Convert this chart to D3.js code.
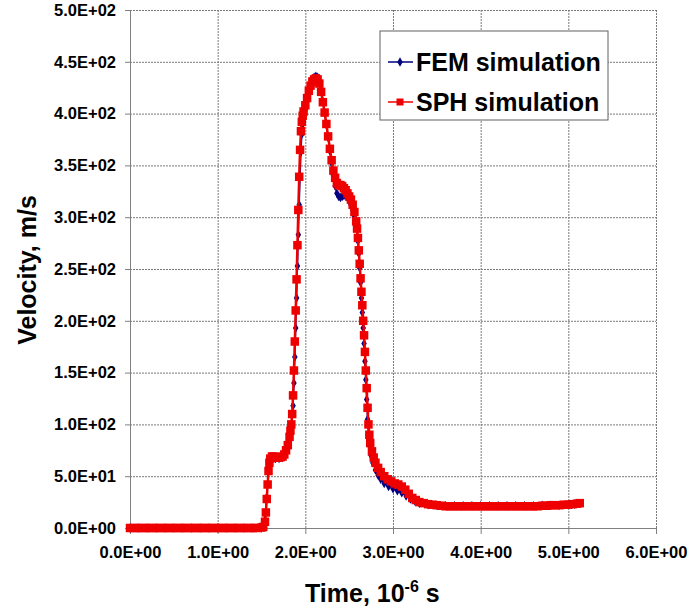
<!DOCTYPE html>
<html>
<head>
<meta charset="utf-8">
<script src="https://cdn.jsdelivr.net/npm/d3@7"></script>
<style>
  body { margin: 0; background: #fff; }
  text { font-family: "Liberation Sans", Arial, sans-serif; font-weight: bold; fill: #000; }
</style>
</head>
<body>
<svg id="chart"></svg>
<script>
// time in 10^-6 s, velocity in m/s
const sphTime = [
  0, 0.05, 0.1, 0.15, 0.2, 0.25, 0.3, 0.35, 0.4, 0.45, 0.5, 0.55, 0.6, 0.65, 0.7, 0.75,
  0.8, 0.85, 0.9, 0.95, 1.0, 1.05, 1.1, 1.15, 1.2, 1.25, 1.3, 1.35, 1.4, 1.45, 1.5,
  1.52, 1.54, 1.55, 1.56, 1.57, 1.58, 1.59, 1.6, 1.62, 1.64, 1.66, 1.68, 1.7, 1.72, 1.74,
  1.76, 1.78, 1.8, 1.82, 1.83, 1.84, 1.85, 1.86, 1.87, 1.88, 1.89, 1.9, 1.91, 1.92, 1.93,
  1.94, 1.95, 1.96, 1.97, 1.98, 2.0, 2.02, 2.04, 2.06, 2.08, 2.1, 2.12, 2.14, 2.16, 2.18,
  2.2, 2.22, 2.24, 2.26, 2.28, 2.3, 2.32, 2.34, 2.36, 2.38, 2.4, 2.42, 2.44, 2.46, 2.48,
  2.5, 2.52, 2.54, 2.56, 2.58, 2.59, 2.6, 2.61, 2.62, 2.63, 2.64, 2.65, 2.66, 2.67, 2.68,
  2.69, 2.7, 2.71, 2.72, 2.73, 2.74, 2.76, 2.78, 2.8, 2.83, 2.86, 2.9, 2.94, 2.98, 3.02,
  3.06, 3.1, 3.14, 3.18, 3.22, 3.26, 3.3, 3.35, 3.4, 3.45, 3.5, 3.55, 3.6, 3.65, 3.7,
  3.75, 3.8, 3.85, 3.9, 3.95, 4.0, 4.05, 4.1, 4.15, 4.2, 4.25, 4.3, 4.35, 4.4, 4.45, 4.5,
  4.55, 4.6, 4.65, 4.7, 4.75, 4.8, 4.85, 4.9, 4.95, 5.0, 5.05, 5.1, 5.13
];
const sphVelocity = [
  0, 0, 0, 0, 0, 0, 0, 0, 0, 0, 0, 0, 0, 0, 0, 0,
  0, 0, 0, 0, 0, 0, 0, 0, 0, 0, 0, 0, 0, 0, 0.5,
  1, 6, 15, 28, 42, 55, 63, 67, 69, 69, 68, 68, 68, 68.5, 69,
  71, 75, 80, 88, 94, 100, 110, 128, 152, 180, 210, 240, 273, 307, 339,
  365, 383, 392, 398, 402, 408, 415, 422, 427, 431, 433, 434, 433, 429, 421,
  411, 401, 390, 378, 366, 355, 345, 338, 333, 331, 331, 330, 328, 326, 323,
  320, 317, 312, 305, 296, 289, 280, 268, 255, 241, 228, 215, 200, 186, 170,
  152, 135, 116, 100, 90, 82, 74, 68, 63, 58, 54, 50, 47, 45, 43,
  42, 40, 37, 33, 29, 27, 25, 24, 23, 22.5, 22, 21.5, 21, 21, 21,
  21, 21, 21, 21, 21, 21, 21, 21, 21, 21, 21, 21, 21, 21, 21, 21,
  21, 21, 21, 21.5, 21.5, 22, 22, 22, 22.5, 22.5, 23, 23.5, 24
];

const femTime = [
  0, 0.1, 0.2, 0.3, 0.4, 0.5, 0.6, 0.7, 0.8, 0.9, 1.0, 1.1, 1.2, 1.3, 1.4, 1.5,
  1.52, 1.54, 1.56, 1.58, 1.6, 1.62, 1.66, 1.7, 1.74, 1.78, 1.8, 1.82, 1.84, 1.86, 1.87,
  1.88, 1.89, 1.9, 1.91, 1.92, 1.93, 1.94, 1.95, 1.96, 1.97, 1.98, 2.0, 2.02, 2.04, 2.06,
  2.08, 2.1, 2.12, 2.14, 2.16, 2.18, 2.2, 2.22, 2.24, 2.26, 2.28, 2.3, 2.32, 2.34, 2.36,
  2.38, 2.4, 2.42, 2.44, 2.46, 2.48, 2.5, 2.52, 2.54, 2.56, 2.58, 2.6, 2.61, 2.62, 2.63,
  2.64, 2.65, 2.66, 2.67, 2.68, 2.69, 2.7, 2.71, 2.72, 2.73, 2.75, 2.77, 2.8, 2.83, 2.86,
  2.9, 2.95, 3.0, 3.05, 3.1, 3.15, 3.2, 3.25, 3.3, 3.4, 3.5, 3.6, 3.7, 3.8, 3.9,
  4.0, 4.1, 4.2, 4.3, 4.4, 4.5, 4.6, 4.7, 4.8, 4.9, 5.0, 5.07
];
const femVelocity = [
  0, 0, 0, 0, 0, 0, 0, 0, 0, 0, 0, 0, 0, 0, 0, 0,
  1, 8, 30, 56, 66, 68, 67, 67, 68, 73, 78, 86, 96, 118, 140,
  165, 193, 222, 253, 283, 312, 340, 363, 380, 390, 396, 404, 413, 421, 428,
  432, 435, 436, 435, 431, 423, 412, 401, 389, 377, 364, 352, 340, 330, 323,
  320, 319, 320, 321, 321, 319, 316, 312, 307, 300, 291, 277, 265, 251, 237,
  222, 208, 193, 178, 161, 143, 124, 105, 90, 80, 70, 63, 56, 51, 47,
  43, 40, 38, 36, 34, 31, 28, 26, 24, 22.5, 22, 21.5, 21.5, 21.5, 21.5,
  21.5, 21.5, 21.5, 21.5, 21.5, 21.5, 21.5, 22, 22, 22, 22.5, 23
];

const xTicks = [0, 1, 2, 3, 4, 5, 6];
const yTicks = [0, 50, 100, 150, 200, 250, 300, 350, 400, 450, 500];
const seriesNames = ["FEM simulation", "SPH simulation"];
const seriesColors = ["#000080", "#ee0000"];

const width = 689, height = 613;
const plot = {left: 130, right: 656, top: 10, bottom: 528};
const sq = 8.5; // SPH marker size

const svg = d3.select("#chart")
  .attr("width", width)
  .attr("height", height);

svg.append("rect")
  .attr("width", width)
  .attr("height", height)
  .attr("fill", "#fff");

const xScale = d3.scaleLinear().domain([0, 6]).range([plot.left, plot.right]);
const yScale = d3.scaleLinear().domain([0, 500]).range([plot.bottom, plot.top]);

// excel style 0.0E+00
function sci(v) {
  if (v === 0) return "0.0E+00";
  const e = Math.floor(Math.log10(Math.abs(v)));
  const m = v / Math.pow(10, e);
  const sign = e < 0 ? "-" : "+";
  return m.toFixed(1) + "E" + sign + String(Math.abs(e)).padStart(2, "0");
}

// gridlines
svg.append("g")
  .selectAll("line")
  .data(yTicks.slice(1))
  .join("line")
  .attr("x1", plot.left).attr("x2", plot.right)
  .attr("y1", d => yScale(d) + 0.5).attr("y2", d => yScale(d) + 0.5)
  .attr("stroke", "#7a7a7a")
  .attr("stroke-dasharray", "2,1");

svg.append("g")
  .selectAll("line")
  .data(xTicks.slice(1))
  .join("line")
  .attr("x1", d => xScale(d) + 0.5).attr("x2", d => xScale(d) + 0.5)
  .attr("y1", plot.top).attr("y2", plot.bottom)
  .attr("stroke", "#7a7a7a")
  .attr("stroke-dasharray", "2,1");

// axes
const xAxis = d3.axisBottom(xScale)
  .tickValues(xTicks)
  .tickFormat(sci)
  .tickSize(6)
  .tickPadding(12);

const yAxis = d3.axisLeft(yScale)
  .tickValues(yTicks)
  .tickFormat(sci)
  .tickSize(5)
  .tickPadding(9);

const gx = svg.append("g")
  .attr("transform", "translate(0," + plot.bottom + ")")
  .call(xAxis);

const gy = svg.append("g")
  .attr("transform", "translate(" + plot.left + ",0)")
  .call(yAxis);

[gx, gy].forEach(g => {
  g.select(".domain").attr("stroke", "#808080");
  g.selectAll(".tick line").attr("stroke", "#808080");
  g.selectAll(".tick text")
    .attr("font-size", "16.5px")
    .attr("font-family", "Liberation Sans, Arial, sans-serif")
    .attr("font-weight", "bold")
    .attr("fill", "#000");
});

// series
const sphData = sphTime.map((t, i) => ({t: t, v: sphVelocity[i]}));
const femData = femTime.map((t, i) => ({t: t, v: femVelocity[i]}));

const line = d3.line()
  .x(d => xScale(d.t))
  .y(d => yScale(d.v));

const diamond = d3.symbol().type(d3.symbolDiamond).size(26);

svg.append("path")
  .datum(femData)
  .attr("fill", "none")
  .attr("stroke", seriesColors[0])
  .attr("stroke-width", 1.5)
  .attr("d", line);

svg.append("g")
  .selectAll("path")
  .data(femData)
  .join("path")
  .attr("transform", d => "translate(" + xScale(d.t) + "," + yScale(d.v) + ")")
  .attr("d", diamond)
  .attr("fill", seriesColors[0]);

svg.append("path")
  .datum(sphData)
  .attr("fill", "none")
  .attr("stroke", seriesColors[1])
  .attr("stroke-width", 2.5)
  .attr("d", line);

svg.append("g")
  .selectAll("rect")
  .data(sphData)
  .join("rect")
  .attr("x", d => xScale(d.t) - sq / 2)
  .attr("y", d => yScale(d.v) - sq / 2)
  .attr("width", sq)
  .attr("height", sq)
  .attr("fill", seriesColors[1]);

// legend
const legend = svg.append("g").attr("transform", "translate(380,31)");

legend.append("rect")
  .attr("width", 228)
  .attr("height", 89)
  .attr("fill", "#fff")
  .attr("stroke", "#606060");

const entry = legend.selectAll("g.entry")
  .data(seriesNames)
  .join("g")
  .attr("class", "entry")
  .attr("transform", (d, i) => "translate(0," + (31 + i * 40) + ")");

entry.append("line")
  .attr("x1", 8).attr("x2", 33)
  .attr("stroke", (d, i) => seriesColors[i])
  .attr("stroke-width", 1.5);

entry.each(function(d, i) {
  const g = d3.select(this);
  if (i === 0) {
    g.append("path")
      .attr("transform", "translate(20,0)")
      .attr("d", diamond)
      .attr("fill", seriesColors[0]);
  } else {
    g.append("rect")
      .attr("x", 16.5).attr("y", -3.5)
      .attr("width", 7).attr("height", 7)
      .attr("fill", seriesColors[1]);
  }
});

entry.append("text")
  .attr("x", 36)
  .attr("dy", "0.35em")
  .attr("font-size", "25px")
  .text(d => d);

// axis titles
const xTitle = svg.append("text")
  .attr("x", 305)
  .attr("y", 602)
  .attr("font-size", "25px");
xTitle.append("tspan").text("Time, 10");
xTitle.append("tspan").attr("dy", -10).attr("font-size", "16px").text("-6");
xTitle.append("tspan").attr("dy", 10).text(" s");

svg.append("text")
  .attr("transform", "translate(36,270) rotate(-90)")
  .attr("text-anchor", "middle")
  .attr("font-size", "25px")
  .text("Velocity, m/s");
</script>
</body>
</html>
